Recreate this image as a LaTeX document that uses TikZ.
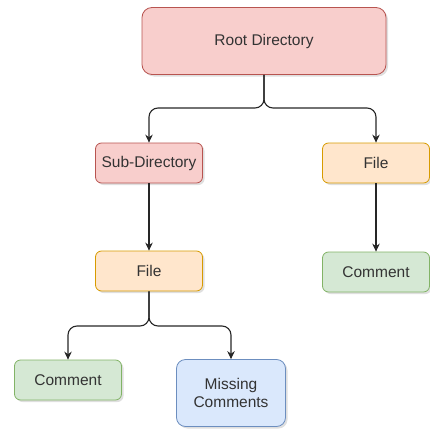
\documentclass[tikz,border=0pt]{standalone}
\usepackage{fontspec}
\setmainfont{Liberation Sans}
\usetikzlibrary{arrows.meta,shadows}
\usepackage{xcolor}

\definecolor{dirfill}{HTML}{F8CECC}
\definecolor{dirline}{HTML}{B85450}
\definecolor{filefill}{HTML}{FFE6CC}
\definecolor{fileline}{HTML}{D79B00}
\definecolor{cmtfill}{HTML}{D5E8D4}
\definecolor{cmtline}{HTML}{82B366}
\definecolor{missfill}{HTML}{DAE8FC}
\definecolor{missline}{HTML}{6C8EBF}

\begin{document}
\begin{tikzpicture}[x=1pt, y=-1pt, >=Stealth,
  font=\fontsize{15.5}{18}\selectfont, text=black!80,
  box/.style={draw, rounded corners=6pt, line width=0.8pt, align=center,
    minimum width=107pt, minimum height=40pt, inner xsep=1pt,
    drop shadow={opacity=0.25, shadow xshift=2pt, shadow yshift=-2pt}},
  dirbox/.style={box, fill=dirfill, draw=dirline},
  filebox/.style={box, fill=filefill, draw=fileline},
  cmtbox/.style={box, fill=cmtfill, draw=cmtline},
  missbox/.style={box, fill=missfill, draw=missline},
  edge/.style={->, line width=1.1pt, black!85, rounded corners=9pt,
    arrows={-Stealth[length=8pt, width=7.5pt]}}]
  \useasboundingbox (0,0) rectangle (430,431);
  %% Boxes
  \node[dirbox, minimum width=244pt, minimum height=67pt, rounded corners=10pt]
    (root) at (264,41) {Root Directory};
  \node[dirbox] (subdir) at (149,163) {Sub-Directory};
  \node[filebox] (fileR) at (376,163) {File};
  \node[cmtbox] (cmtR) at (376,272) {Comment};
  \node[filebox] (fileL) at (149,271) {File};
  \node[cmtbox] (cmtL) at (68,380) {Comment};
  \node[missbox, minimum width=109pt, minimum height=67pt, rounded corners=9pt]
    (miss) at (231,393) {Missing\\Comments};
  %% Split points
  \coordinate (splitA) at (264,108);
  \coordinate (splitB) at (149,326);
  %% Connectors
  \draw[edge] (root.south) -- (splitA) -| (subdir.north);
  \draw[edge] (root.south) -- (splitA) -| (fileR.north);
  \draw[edge] (subdir.south) -- (fileL.north);
  \draw[edge] (fileR.south) -- (cmtR.north);
  \draw[edge] (fileL.south) -- (splitB) -| (cmtL.north);
  \draw[edge] (fileL.south) -- (splitB) -| (miss.north);
\end{tikzpicture}
\end{document}
